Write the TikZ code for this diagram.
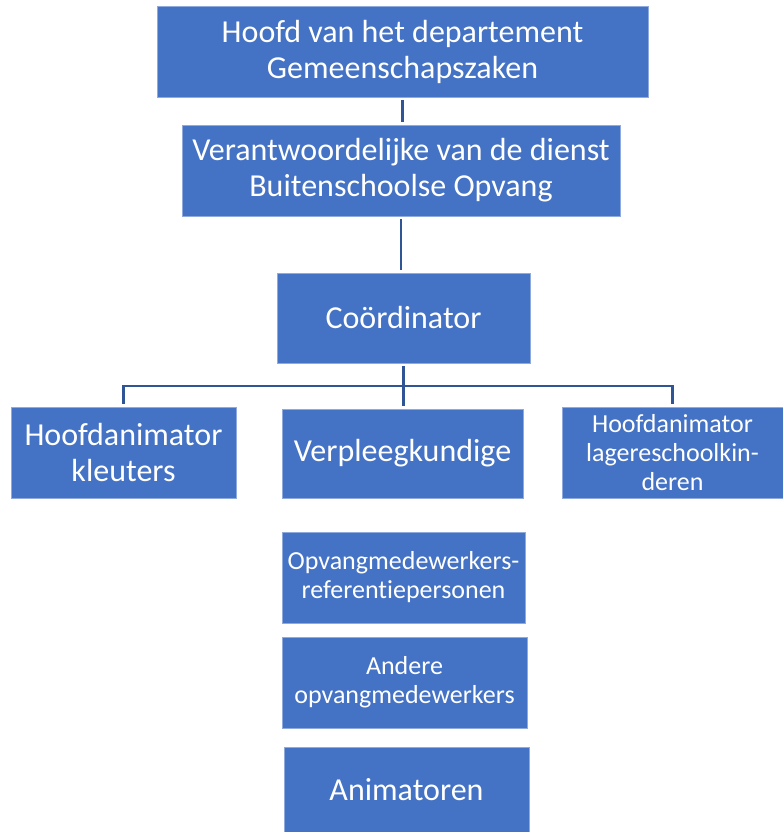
\documentclass[tikz,border=0pt]{standalone}
\usepackage{fontspec}
\setmainfont{Carlito}[Ligatures=NoCommon]
\definecolor{boxblue}{HTML}{4472C4}
\definecolor{edgeblue}{HTML}{8FAADC}
\definecolor{lineblue}{HTML}{2F5597}
\begin{document}
\begin{tikzpicture}[x=1pt,y=1pt,
  unit/.style={draw=edgeblue,line width=0.8pt,fill=boxblue,text=white,align=center,inner sep=1pt,font=\fontsize{32}{36}\selectfont},
  small/.style={font=\fontsize{26}{29}\selectfont},
  conn/.style={draw=lineblue,line width=2.4pt,shorten <=3pt,shorten >=3pt}]
\useasboundingbox (0,0) rectangle (783,832);
\node[unit,minimum width=491,minimum height=91] (hoofd) at (402.5,780.5) {Hoofd van het departement\\Gemeenschapszaken};
\node[unit,minimum width=438,minimum height=91] (verant) at (401,661.5) {Verantwoordelijke van de dienst\\Buitenschoolse Opvang};
\node[unit,minimum width=253,minimum height=90] (coord) at (403.5,514) {Coördinator};
\draw[conn] (hoofd.south) -- (hoofd.south |- verant.north);
\draw[conn] (verant.south) -- (verant.south |- coord.north);
\node[unit,minimum width=225,minimum height=91] (kleut) at (123.5,379.5) {Hoofdanimator\\kleuters};
\node[unit,minimum width=241,minimum height=89] (verpl) at (402.5,378.5) {Verpleegkundige};
\node[unit,small,minimum width=221,minimum height=91] (lager) at (672.5,379.5) {Hoofdanimator\\lagereschoolkin-\\deren};
\coordinate (bus) at (402,446);
\draw[conn] (coord.south) -- (coord.south |- verpl.north);
\draw[conn] (kleut.north) |- (bus) -| (lager.north);
\node[unit,small,minimum width=243,minimum height=91] (opvang) at (403.5,254.5) {Opvangmedewerkers-\\referentiepersonen};
\node[unit,small,minimum width=245,minimum height=91] (andere) at (404.5,149.5) {Andere\\opvangmedewerkers};
\node[unit,minimum width=245,minimum height=85] (anim) at (406.5,42.5) {Animatoren};
\end{tikzpicture}
\end{document}
